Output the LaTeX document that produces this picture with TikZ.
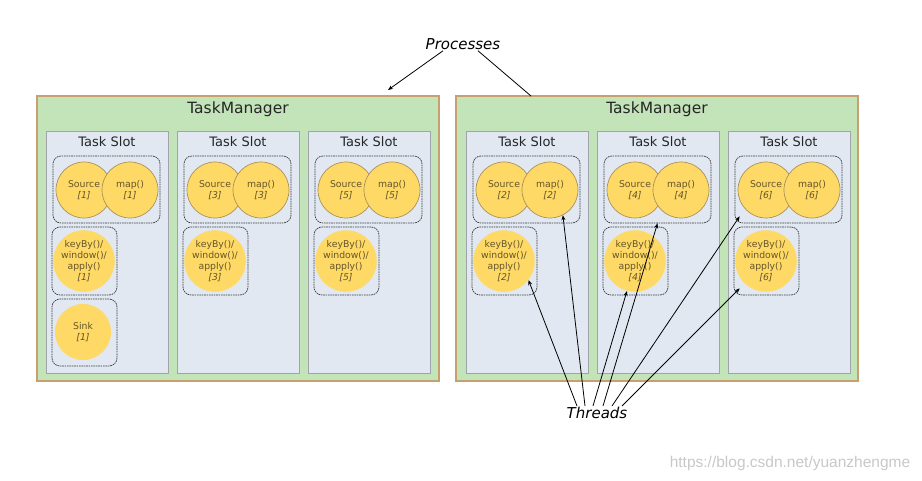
\documentclass[tikz,border=0pt]{standalone}
\usepackage{fontspec}
\setmainfont{DejaVu Sans}
\newfontfamily\markfont{Liberation Sans}
\usetikzlibrary{arrows.meta}
\definecolor{tmgreen}{RGB}{195,227,185}
\definecolor{tmedge}{RGB}{200,160,110}
\definecolor{slotblue}{RGB}{225,232,242}
\definecolor{slotedge}{RGB}{160,164,170}
\definecolor{opyellow}{RGB}{255,217,102}
\definecolor{opedge}{RGB}{170,145,90}
\definecolor{optext}{RGB}{100,85,40}
\definecolor{dashgray}{RGB}{60,60,60}
\definecolor{markgray}{RGB}{200,200,200}
\tikzset{
  manager/.style={draw=tmedge, fill=tmgreen, line width=1.4pt, minimum width=402pt, minimum height=285pt, inner sep=0pt},
  mgrtitle/.style={font=\fontsize{15.5}{18}\selectfont, text=black!85},
  slot/.style={draw=slotedge, fill=slotblue, line width=0.8pt, minimum width=122pt, minimum height=242pt, inner sep=0pt},
  slottitle/.style={font=\fontsize{13}{16}\selectfont, text=black!85},
  group/.style={draw=dashgray, dash pattern=on 1.6pt off 0.8pt, line width=0.7pt, rounded corners=8pt, inner sep=0pt},
  opcirc/.style={circle, fill=opyellow, draw=opedge, line width=0.7pt, minimum size=56pt, inner sep=0pt, font=\fontsize{9.3}{11}\selectfont, text=optext, align=center},
  opflat/.style={opcirc, draw=none},
  callout/.style={font=\fontsize{15}{18}\selectfont\itshape, inner sep=1pt},
  thread/.style={-{Stealth[length=5pt,width=4pt]}, line width=0.8pt},
}
\begin{document}
\begin{tikzpicture}[x=1pt,y=-1pt]
\useasboundingbox (0,0) rectangle (922,481);
% the two task managers
\node[manager] (tm1) at (238,238.5) {};
\node[mgrtitle] (tt1) at ([yshift=-14]tm1.north) {TaskManager};
\node[manager] (tm2) at (657,238.5) {};
\node[mgrtitle] (tt2) at ([yshift=-14]tm2.north) {TaskManager};
% slots, left manager holds 1,3,5 and right one 2,4,6
\foreach \x/\n in {46/1,177/3,308/5,466/2,597/4,728/6}{
  \node[slot] (sl\n) at (\x+61,252) {};
  \node[slottitle] (st\n) at ([yshift=-11]sl\n.north) {Task Slot};
  \node[group, minimum width=107pt, minimum height=67pt] (ga\n) at (\x+60.5,189.5) {};
  \node[opcirc] (src\n) at (\x+38,190) {Source\\\textit{[\n]}};
  \node[opcirc] (mp\n) at (\x+84,190) {map()\\\textit{[\n]}};
  \node[group, minimum width=65pt, minimum height=68pt] (gb\n) at (\x+38.5,261) {};
  \node[opflat] (kc\n) at (\x+38,261) {keyBy()/\\window()/\\apply()\\\textit{[\n]}};
}
\node[group, minimum width=65pt, minimum height=67pt] (gc1) at (84.5,332.5) {};
\node[opflat] (sk1) at (83,332) {Sink\\\textit{[1]}};
% processes
\node[callout] (pr) at (463,44) {Processes};
\coordinate (p1) at (388,90);
\coordinate (p2) at (531,96);
\draw[thread] ([xshift=-20]pr.south) -- (p1);
\draw[line width=0.8pt] ([xshift=15]pr.south) -- (p2);
% threads
\node[callout] (th) at (597,413) {Threads};
\draw[thread] ([xshift=-20]th.north) -- (kc2.-38);
\draw[thread] ([xshift=-12]th.north) -- (mp2.-63);
\draw[thread] ([xshift=-4]th.north) -- (kc4.-105);
\draw[thread] ([xshift=6]th.north) -- (ga4.south);
\draw[thread] ([xshift=15]th.north) -- ([xshift=5,yshift=7]ga6.south west);
\draw[thread] ([xshift=25]th.north) -- ([xshift=6,yshift=7]gb6.south west);
\node[font=\markfont\fontsize{15.5}{18}\selectfont, text=markgray] (wm) at (790,463) {https://blog.csdn.net/yuanzhengme};
\end{tikzpicture}
\end{document}
